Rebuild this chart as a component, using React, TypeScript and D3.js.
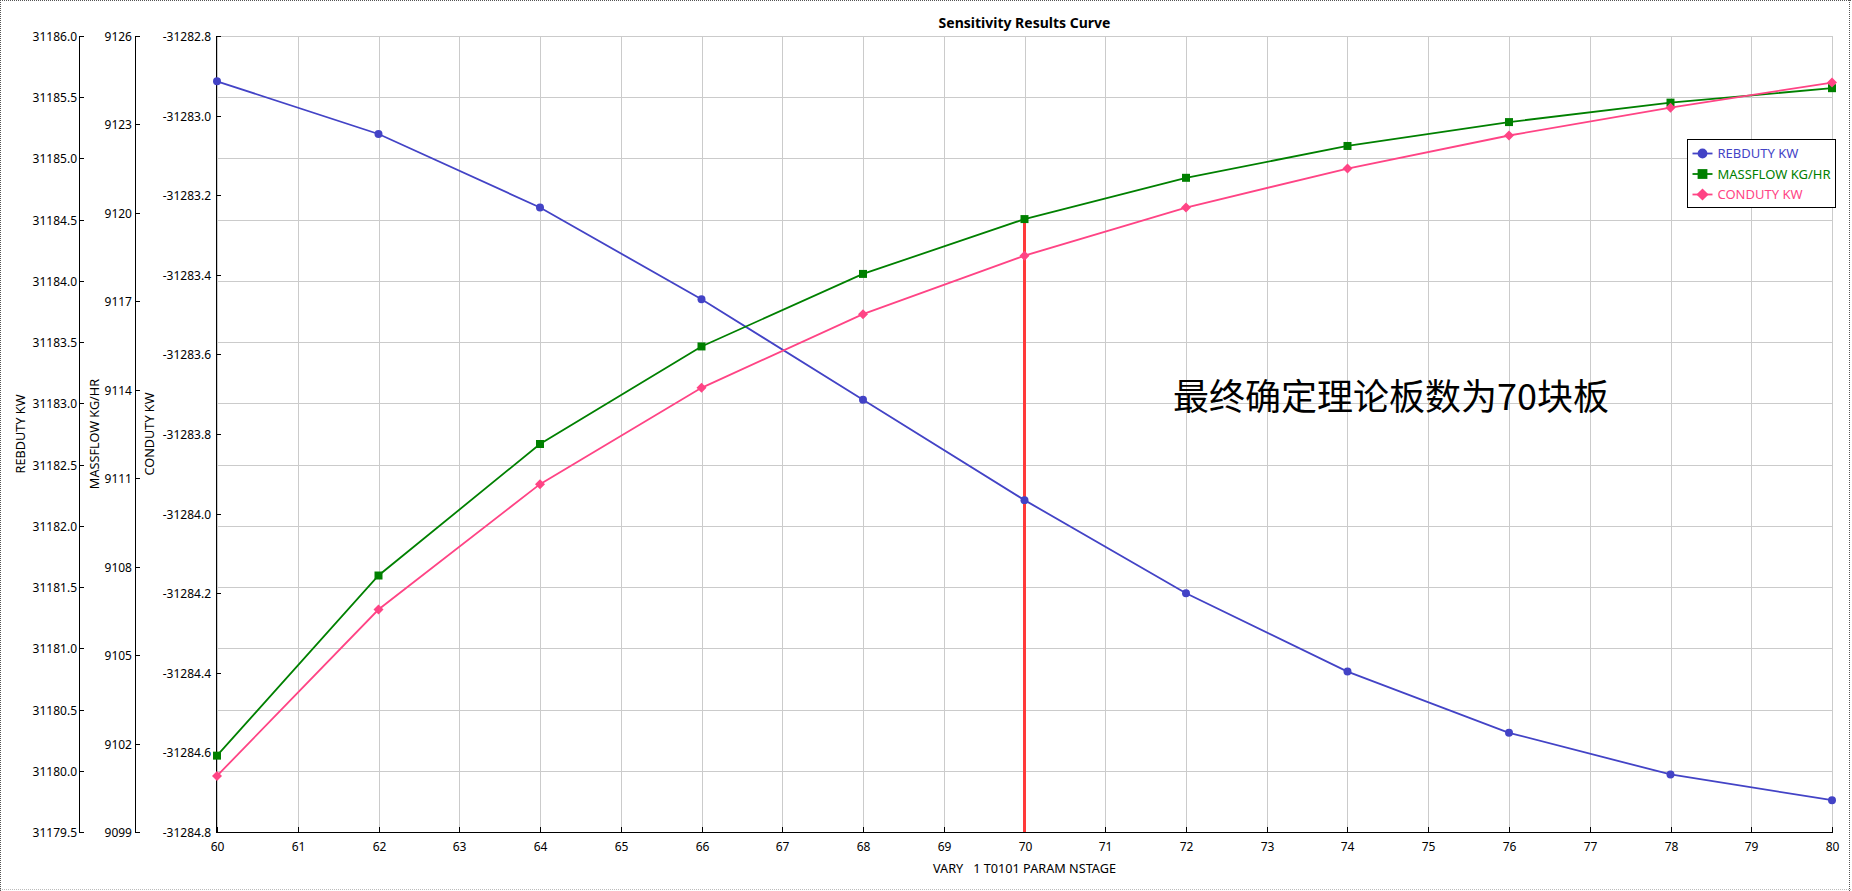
import * as d3 from "d3";
import { useEffect, useRef } from "react";

const stages = [60, 62, 64, 66, 68, 70, 72, 74, 76, 78, 80];
const rebduty = [31185.63, 31185.2, 31184.6, 31183.85, 31183.03, 31182.21, 31181.45, 31180.81, 31180.31, 31179.97, 31179.76];
const massflow = [9101.59, 9107.7, 9112.16, 9115.47, 9117.93, 9119.79, 9121.19, 9122.27, 9123.08, 9123.74, 9124.23];
const conduty = [-31284.659, -31284.241, -31283.926, -31283.684, -31283.499, -31283.352, -31283.231, -31283.133, -31283.05, -31282.98, -31282.917];

const xTicks = d3.range(60, 81, 1);
const rebTicks = [31179.5, 31180.0, 31180.5, 31181.0, 31181.5, 31182.0, 31182.5, 31183.0, 31183.5, 31184.0, 31184.5, 31185.0, 31185.5, 31186.0];
const massTicks = [9099, 9102, 9105, 9108, 9111, 9114, 9117, 9120, 9123, 9126];
const condTicks = [-31284.8, -31284.6, -31284.4, -31284.2, -31284.0, -31283.8, -31283.6, -31283.4, -31283.2, -31283.0, -31282.8];

const seriesNames = ["REBDUTY KW", "MASSFLOW KG/HR", "CONDUTY KW"];
const seriesColors = ["#4343c6", "#008000", "#ff4485"];
const markedStage = 70;
const note = "最终确定理论板数为70块板";

const W = 1852;
const H = 891;
const FONT = "'Noto Sans', 'DejaVu Sans', sans-serif";

export default function App() {
  const svgRef = useRef<SVGSVGElement>(null);

  useEffect(() => {
    if (!svgRef.current) return;
    const svg = d3.select(svgRef.current);
    svg.selectAll("*").remove();

    const margin = { top: 36, right: 20, bottom: 59, left: 217 };
    const x0 = margin.left;
    const x1 = 1832;
    const y0 = margin.top;
    const y1 = H - margin.bottom;

    const x = d3.scaleLinear().domain([60, 80]).range([x0, x1]);
    const yReb = d3.scaleLinear().domain([31179.5, 31186]).range([y1, y0]);
    const yMass = d3.scaleLinear().domain([9099, 9126]).range([y1, y0]);
    const yCond = d3.scaleLinear().domain([-31284.8, -31282.8]).range([y1, y0]);

    // outer dotted frame
    const frame = svg.append("g").style("stroke-dasharray", "1,1").style("stroke-width", 1);
    frame.append("line").attr("x1", 0).attr("x2", W).attr("y1", 0.5).attr("y2", 0.5).style("stroke", "#555");
    frame.append("line").attr("x1", 0.5).attr("x2", 0.5).attr("y1", 0).attr("y2", H).style("stroke", "#555");
    frame.append("line").attr("x1", W - 2.5).attr("x2", W - 2.5).attr("y1", 0).attr("y2", H).style("stroke", "#555");
    frame.append("line").attr("x1", 0).attr("x2", W).attr("y1", H - 1.5).attr("y2", H - 1.5).style("stroke", "#bbb");

    // grid
    const grid = svg.append("g").style("stroke", "#cbcbcb").style("stroke-width", 1);
    xTicks.forEach((t) => {
      grid.append("line")
        .attr("x1", Math.round(x(t)) + 0.5).attr("x2", Math.round(x(t)) + 0.5)
        .attr("y1", y0).attr("y2", y1);
    });
    rebTicks.forEach((t) => {
      grid.append("line")
        .attr("x1", x0).attr("x2", x1)
        .attr("y1", Math.round(yReb(t)) + 0.5).attr("y2", Math.round(yReb(t)) + 0.5);
    });

    // y axes
    const yAxis = (scale: d3.ScaleLinear<number, number>, ticks: number[], xPos: number, fmt: (d: number) => string, gap: number) => {
      const g = svg.append("g");
      g.append("line").attr("x1", xPos + 0.5).attr("x2", xPos + 0.5).attr("y1", y0).attr("y2", y1 + 1).style("stroke", "#000");
      ticks.forEach((t) => {
        const yy = Math.round(scale(t)) + 0.5;
        g.append("line").attr("x1", xPos).attr("x2", xPos + 5).attr("y1", yy).attr("y2", yy).style("stroke", "#000");
        g.append("text")
          .attr("x", xPos - gap)
          .attr("y", yy)
          .attr("dy", "0.35em")
          .attr("text-anchor", "end")
          .style("font-family", FONT)
          .style("font-size", "12px")
          .style("fill", "#000")
          .text(fmt(t));
      });
    };
    yAxis(yReb, rebTicks, 79, d3.format(".1f"), 2);
    yAxis(yMass, massTicks, 135, d3.format("d"), 3);
    yAxis(yCond, condTicks, x0 - 1, (d) => d3.format(".1f")(d).replace("−", "-"), 5);

    // x axis
    const xg = svg.append("g");
    xg.append("line").attr("x1", x0).attr("x2", x1 + 1).attr("y1", y1 + 0.5).attr("y2", y1 + 0.5).style("stroke", "#000");
    xTicks.forEach((t) => {
      const xx = Math.round(x(t)) + 0.5;
      xg.append("line").attr("x1", xx).attr("x2", xx).attr("y1", y1).attr("y2", y1 - 5).style("stroke", "#000");
      xg.append("text")
        .attr("x", xx)
        .attr("y", y1 + 15)
        .attr("dy", "0.35em")
        .attr("text-anchor", "middle")
        .style("font-family", FONT)
        .style("font-size", "12px")
        .text(String(t));
    });

    // axis titles
    const label = (txt: string, xx: number, yy: number, rotate: boolean) => {
      svg.append("text")
        .attr("transform", rotate ? `translate(${xx},${yy}) rotate(-90)` : `translate(${xx},${yy})`)
        .attr("text-anchor", "middle")
        .attr("dy", "0.35em")
        .style("font-family", FONT)
        .style("font-size", "12.7px")
        .style("fill", "#000")
        .style("white-space", "pre")
        .text(txt);
    };
    label("VARY   1 T0101 PARAM NSTAGE", (x0 + x1) / 2, 869, false);
    label("REBDUTY KW", 21, (y0 + y1) / 2, true);
    label("MASSFLOW KG/HR", 95, (y0 + y1) / 2, true);
    label("CONDUTY KW", 150, (y0 + y1) / 2, true);

    // title
    svg.append("text")
      .attr("x", (x0 + x1) / 2)
      .attr("y", 23)
      .attr("dy", "0.35em")
      .attr("text-anchor", "middle")
      .style("font-family", FONT)
      .style("font-size", "14px")
      .style("font-weight", "bold")
      .text("Sensitivity Results Curve");

    // red marker line
    const mi = stages.indexOf(markedStage);
    svg.append("line")
      .attr("x1", x(markedStage)).attr("x2", x(markedStage))
      .attr("y1", yMass(massflow[mi])).attr("y2", y1)
      .style("stroke", "#ff3a3a")
      .style("stroke-width", 3);

    // series
    const series = [
      { values: rebduty, scale: yReb, symbol: d3.symbolCircle, size: 50, rot: 0 },
      { values: massflow, scale: yMass, symbol: d3.symbolSquare, size: 64, rot: 0 },
      { values: conduty, scale: yCond, symbol: d3.symbolSquare, size: 50, rot: 45 },
    ];
    series.forEach((s, i) => {
      const line = d3.line<number>()
        .x((_, j) => x(stages[j]))
        .y((d) => s.scale(d));
      svg.append("path")
        .attr("d", line(s.values))
        .style("fill", "none")
        .style("stroke", seriesColors[i])
        .style("stroke-width", 1.8);
      const sym = d3.symbol().type(s.symbol).size(s.size);
      svg.append("g")
        .selectAll("path")
        .data(s.values)
        .enter()
        .append("path")
        .attr("d", sym)
        .attr("transform", (d, j) => `translate(${x(stages[j])},${s.scale(d)}) rotate(${s.rot})`)
        .style("fill", seriesColors[i]);
    });

    // annotation
    svg.append("text")
      .attr("x", 1173)
      .attr("y", 410)
      .style("font-family", "'Noto Sans CJK SC', sans-serif")
      .style("font-size", "36px")
      .style("fill", "#000")
      .text(note);

    // legend
    const legend = svg.append("g").attr("transform", "translate(1687.5,139.5)");
    legend.append("rect")
      .attr("width", 148)
      .attr("height", 68)
      .style("fill", "#fff")
      .style("stroke", "#000")
      .style("stroke-width", 1);
    series.forEach((s, i) => {
      const ly = 14 + i * 20.5;
      legend.append("line")
        .attr("x1", 5).attr("x2", 25).attr("y1", ly).attr("y2", ly)
        .style("stroke", seriesColors[i])
        .style("stroke-width", 1.8);
      legend.append("path")
        .attr("d", d3.symbol().type(s.symbol).size(s.size * 1.5)())
        .attr("transform", `translate(15,${ly}) rotate(${s.rot})`)
        .style("fill", seriesColors[i]);
      legend.append("text")
        .attr("x", 30)
        .attr("y", ly)
        .attr("dy", "0.35em")
        .style("font-family", FONT)
        .style("font-size", "13px")
        .style("fill", seriesColors[i])
        .text(seriesNames[i]);
    });
  }, []);

  return (
    <svg
      ref={svgRef}
      width={W}
      height={H}
      style={{ position: "absolute", left: 0, top: 0, background: "#fff" }}
    />
  );
}
